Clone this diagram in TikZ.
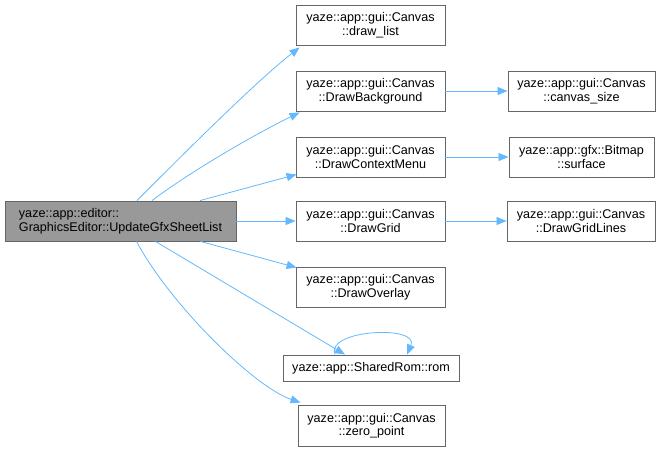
\documentclass[tikz,border=0pt]{standalone}
\usepackage{fontspec}
\setmainfont{Liberation Sans}
\usepackage{tikz}
\usetikzlibrary{arrows.meta,calc}
\definecolor{edgeblue}{HTML}{63B8FF}
\definecolor{boxgray}{HTML}{666666}
\definecolor{rootgray}{HTML}{999999}

\begin{document}
\begin{tikzpicture}[x=1pt,y=-1pt,
  fn/.style={draw=boxgray,line width=.9pt,rectangle,align=center,inner sep=2pt,minimum width=149,minimum height=40,font=\fontsize{12.6}{13.5}\selectfont},
  cur/.style={fn,fill=rootgray,align=left,minimum width=231},
  call/.style={edgeblue,line width=.8pt,-{Triangle[length=10pt,width=8pt]}}]
\useasboundingbox(0,0)rectangle(661,451);
\node[cur](root)at(120.5,221){yaze::app::editor::\\GraphicsEditor::UpdateGfxSheetList};
\node[fn](drawlist)at(370.5,25){yaze::app::gui::Canvas\\::draw\_list};
\node[fn](drawbg)at(370.5,91){yaze::app::gui::Canvas\\::DrawBackground};
\node[fn](ctxmenu)at(370.5,157){yaze::app::gui::Canvas\\::DrawContextMenu};
\node[fn](drawgrid)at(370.5,221){yaze::app::gui::Canvas\\::DrawGrid};
\node[fn](overlay)at(370.5,287){yaze::app::gui::Canvas\\::DrawOverlay};
\node[fn,minimum width=176,minimum height=26](rom)at(371,368){yaze::app::SharedRom::rom};
\node[fn,minimum width=147,minimum height=41](zeropt)at(371.5,425.5){yaze::app::gui::Canvas\\::zero\_point};
\node[fn,minimum width=147](csize)at(581.5,91){yaze::app::gui::Canvas\\::canvas\_size};
\node[fn,minimum width=145](surface)at(581.5,157){yaze::app::gfx::Bitmap\\::surface};
\node[fn,minimum width=148](gridlines)at(581,221){yaze::app::gui::Canvas\\::DrawGridLines};
\draw[call]($(root.north)+(16.5,0)$)..controls +(40,-40) and +(-45,35)..($(drawlist.south west)+(4,2)$);
\draw[call]($(root.north)+(31.5,0)$)..controls +(40,-30) and +(-45,22)..($(drawbg.south west)+(4,1)$);
\draw[call]($(root.north)+(79.5,0)$)--($(ctxmenu.south west)+(1,-3)$);
\draw[call](root.east)--(drawgrid.west);
\draw[call]($(root.south)+(80,0)$)--($(overlay.north west)+(1,1)$);
\draw[call]($(root.south)+(35,0)$)--($(rom.north)+(-26,0)$);
\draw[call]($(root.south)+(16,0)$)..controls +(35,65) and +(-45,-15)..($(zeropt.north west)+(3,-2)$);
\draw[call]($(rom.north)+(-36,0)$)..controls +(-10,-25) and +(13,-30)..($(rom.north)+(36,0)$);
\draw[call](drawbg.east)--(csize.west);
\draw[call](ctxmenu.east)--(surface.west);
\draw[call](drawgrid.east)--(gridlines.west);
\end{tikzpicture}
\end{document}
